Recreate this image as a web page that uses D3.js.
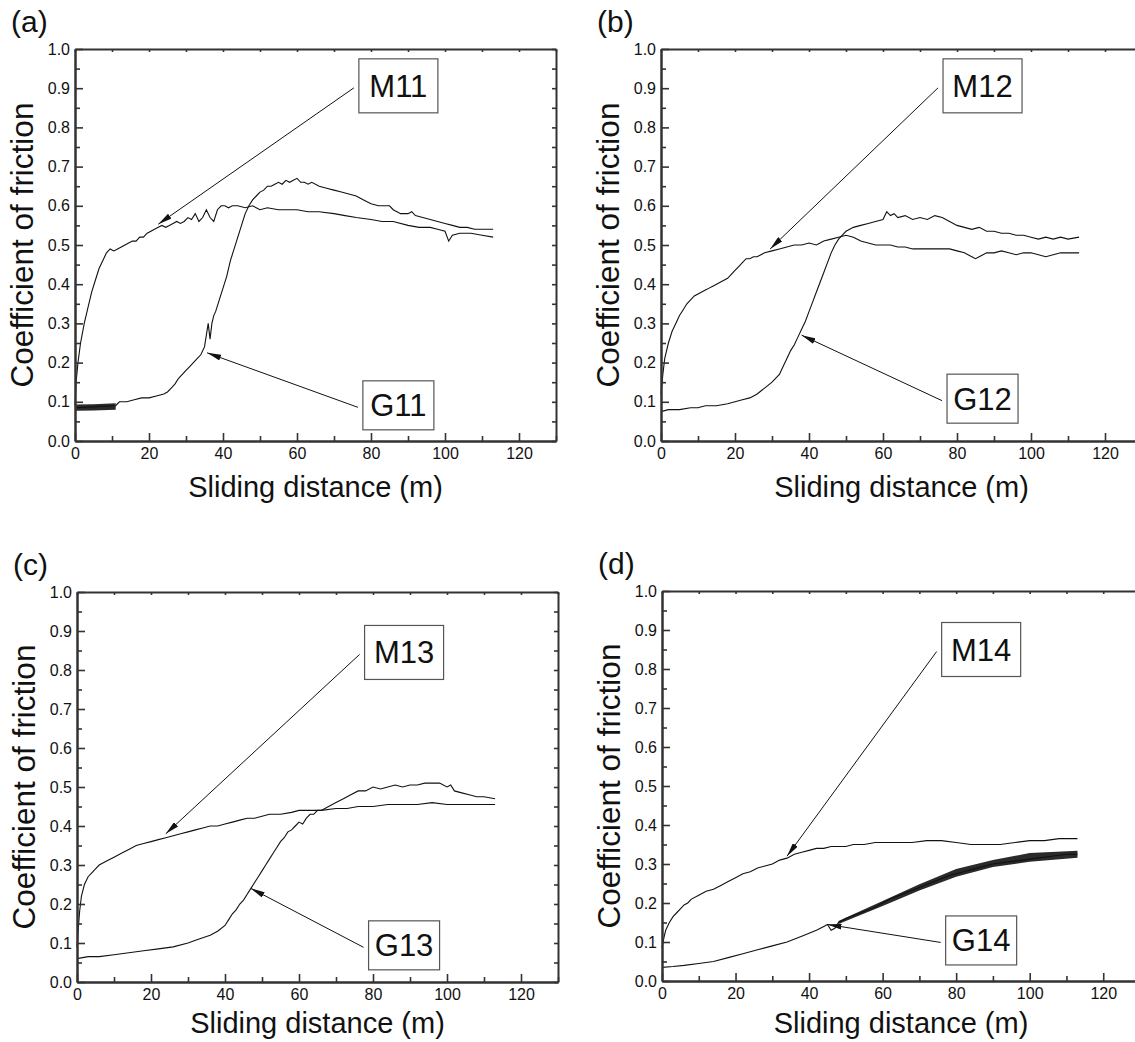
<!DOCTYPE html>
<html><head><meta charset="utf-8">
<script src="https://cdn.jsdelivr.net/npm/d3@7"></script>
<style>
body{margin:0;background:#fff}
svg{display:block}
text{font-family:"Liberation Sans",Arial,Helvetica,sans-serif;fill:#111}
</style>
</head><body>
<svg id="chart" width="1135" height="1042"></svg>
<script>
// ---------------- data ----------------
const panelLetters = ["(a)", "(b)", "(c)", "(d)"];
const seriesNames = [["M11", "G11"], ["M12", "G12"], ["M13", "G13"], ["M14", "G14"]];
const xTicks = [0, 20, 40, 60, 80, 100, 120];
const yTicks = [0.0, 0.1, 0.2, 0.3, 0.4, 0.5, 0.6, 0.7, 0.8, 0.9, 1.0];
const xTitle = "Sliding distance (m)";
const yTitle = "Coefficient of friction";

const m11 = [[0,0.09],[0.3,0.15],[0.8,0.2],[1.5,0.25],[2.5,0.3],[3.5,0.34],[4.5,0.38],[5.5,0.41],[6.5,0.44],[7.5,0.46],[8.5,0.48],[9.5,0.49],[10.5,0.485],[11.5,0.49],[12.5,0.495],[13.5,0.5],[14.5,0.505],[15.5,0.51],[16.5,0.51],[17.5,0.52],[18.5,0.52],[19.5,0.53],[20.5,0.535],[21.5,0.54],[22.5,0.545],[23.5,0.55],[24.5,0.545],[25.5,0.55],[26.5,0.555],[27.5,0.56],[28.5,0.555],[29.5,0.56],[30.5,0.57],[31.5,0.565],[32.5,0.58],[33.5,0.56],[34.5,0.57],[35.5,0.59],[36.5,0.57],[37.5,0.56],[38.5,0.59],[39.5,0.6],[40.5,0.6],[41.5,0.595],[42.5,0.6],[44,0.6],[46,0.595],[48,0.6],[50,0.59],[52,0.595],[55,0.59],[58,0.59],[60,0.59],[63,0.585],[66,0.585],[70,0.58],[73,0.575],[76,0.57],[80,0.565],[83,0.56],[86,0.56],[90,0.55],[93,0.545],[96,0.545],[98,0.54],[100,0.535],[101,0.51],[102,0.525],[104,0.53],[107,0.53],[110,0.525],[113,0.52]];
const g11 = [[0,0.085],[11,0.09],[12,0.1],[14,0.1],[16,0.105],[18,0.11],[20,0.11],[22,0.115],[24,0.12],[25,0.125],[26,0.135],[27,0.145],[28,0.16],[29,0.17],[30,0.18],[31,0.19],[32,0.2],[33,0.21],[34,0.22],[35,0.24],[35.5,0.27],[36,0.3],[36.5,0.26],[37,0.3],[37.5,0.32],[38,0.33],[39,0.36],[40,0.39],[41,0.42],[42,0.46],[43,0.49],[44,0.52],[45,0.55],[46,0.58],[47,0.6],[48,0.615],[49,0.625],[50,0.635],[51,0.64],[52,0.65],[53,0.65],[54,0.655],[55,0.66],[56,0.655],[57,0.665],[58,0.66],[59,0.665],[60,0.67],[61,0.66],[62,0.66],[63,0.655],[64,0.66],[66,0.65],[68,0.645],[70,0.64],[72,0.635],[74,0.63],[76,0.625],[78,0.615],[80,0.605],[82,0.6],[84,0.6],[85,0.6],[86,0.59],[88,0.58],[90,0.58],[91,0.585],[92,0.575],[94,0.57],[96,0.565],[98,0.56],[100,0.555],[102,0.55],[104,0.545],[106,0.545],[108,0.54],[110,0.54],[113,0.54]];
const g11Band = [[0.3,0.077,0.093],[5,0.078,0.094],[11,0.08,0.096]];

const m12 = [[0,0.12],[0.5,0.17],[1,0.21],[2,0.25],[3,0.28],[4,0.3],[5,0.32],[6,0.335],[7,0.35],[8,0.36],[9,0.37],[10,0.375],[11,0.38],[12,0.385],[13,0.39],[14,0.395],[15,0.4],[16,0.405],[17,0.41],[18,0.415],[19,0.425],[20,0.435],[21,0.445],[22,0.455],[23,0.465],[24,0.465],[25,0.47],[26,0.47],[27,0.475],[28,0.48],[30,0.485],[32,0.49],[34,0.495],[36,0.5],[38,0.5],[40,0.505],[42,0.5],[44,0.51],[46,0.515],[48,0.52],[50,0.525],[52,0.52],[54,0.51],[56,0.505],[58,0.5],[60,0.5],[62,0.5],[64,0.495],[66,0.495],[68,0.49],[70,0.49],[72,0.49],[74,0.49],[76,0.49],[78,0.49],[80,0.485],[82,0.48],[84,0.47],[85,0.465],[86,0.47],[88,0.48],[90,0.48],[92,0.485],[94,0.48],[96,0.475],[98,0.48],[100,0.48],[102,0.475],[104,0.47],[106,0.475],[108,0.48],[110,0.48],[113,0.48]];
const g12 = [[0,0.075],[2,0.08],[5,0.08],[8,0.085],[10,0.085],[12,0.09],[15,0.09],[18,0.095],[20,0.1],[22,0.105],[24,0.11],[26,0.12],[28,0.135],[30,0.15],[32,0.17],[33,0.19],[34,0.21],[35,0.23],[36,0.245],[37,0.265],[38,0.285],[39,0.305],[40,0.33],[41,0.355],[42,0.38],[43,0.405],[44,0.43],[45,0.455],[46,0.48],[47,0.5],[48,0.515],[49,0.525],[50,0.535],[52,0.545],[54,0.55],[56,0.555],[58,0.56],[60,0.565],[61,0.585],[62,0.575],[63,0.58],[64,0.57],[66,0.575],[68,0.565],[70,0.57],[72,0.565],[74,0.575],[76,0.57],[78,0.56],[80,0.55],[82,0.545],[84,0.54],[86,0.545],[88,0.535],[90,0.535],[92,0.53],[94,0.53],[96,0.525],[98,0.525],[100,0.52],[102,0.515],[104,0.52],[106,0.515],[108,0.52],[110,0.515],[113,0.52]];

const m13 = [[0,0.09],[0.3,0.13],[0.7,0.18],[1.2,0.22],[2,0.25],[3,0.27],[4,0.28],[5,0.29],[6,0.3],[8,0.31],[10,0.32],[12,0.33],[14,0.34],[16,0.35],[18,0.355],[20,0.36],[22,0.365],[24,0.37],[26,0.375],[28,0.38],[30,0.385],[32,0.39],[34,0.395],[36,0.4],[38,0.4],[40,0.405],[42,0.41],[44,0.415],[46,0.42],[48,0.42],[50,0.425],[52,0.43],[55,0.43],[58,0.435],[60,0.44],[63,0.44],[66,0.44],[70,0.445],[73,0.445],[76,0.45],[80,0.45],[84,0.455],[88,0.455],[92,0.455],[96,0.46],[100,0.455],[104,0.455],[108,0.455],[113,0.455]];
const g13 = [[0,0.06],[3,0.065],[6,0.065],[10,0.07],[14,0.075],[18,0.08],[22,0.085],[26,0.09],[30,0.1],[33,0.11],[36,0.12],[38,0.13],[40,0.145],[41,0.16],[42,0.175],[43,0.185],[44,0.2],[45,0.21],[46,0.225],[47,0.24],[48,0.255],[49,0.27],[50,0.285],[51,0.3],[52,0.315],[53,0.33],[54,0.345],[55,0.36],[56,0.37],[57,0.385],[58,0.39],[59,0.4],[60,0.41],[61,0.405],[62,0.42],[63,0.43],[64,0.43],[65,0.44],[66,0.44],[68,0.45],[70,0.46],[72,0.47],[74,0.48],[76,0.49],[78,0.49],[80,0.5],[82,0.495],[84,0.5],[86,0.505],[88,0.5],[90,0.505],[92,0.505],[94,0.51],[96,0.51],[98,0.51],[100,0.5],[101,0.505],[102,0.49],[104,0.485],[106,0.48],[108,0.475],[110,0.475],[113,0.47]];

const m14 = [[0,0.085],[0.5,0.11],[1,0.13],[2,0.15],[3,0.165],[4,0.175],[5,0.185],[6,0.195],[7,0.2],[8,0.21],[10,0.22],[12,0.23],[14,0.235],[16,0.245],[18,0.255],[20,0.265],[22,0.275],[24,0.28],[26,0.29],[28,0.295],[30,0.3],[32,0.31],[34,0.315],[36,0.325],[38,0.33],[40,0.335],[42,0.34],[44,0.34],[46,0.345],[48,0.345],[50,0.345],[52,0.35],[55,0.35],[58,0.355],[60,0.355],[64,0.355],[68,0.355],[72,0.36],[76,0.36],[80,0.355],[84,0.35],[88,0.35],[92,0.35],[96,0.355],[100,0.36],[104,0.36],[108,0.365],[113,0.365]];
const g14 = [[0,0.035],[3,0.037],[6,0.04],[10,0.045],[14,0.05],[18,0.06],[22,0.07],[26,0.08],[30,0.09],[34,0.1],[38,0.115],[42,0.13],[44,0.14],[45,0.145],[46,0.13],[47,0.135],[48,0.15],[50,0.16],[54,0.175],[58,0.19],[62,0.21],[66,0.225],[70,0.24],[74,0.255],[78,0.27],[82,0.28],[86,0.29],[90,0.3],[94,0.305],[98,0.31],[102,0.315],[106,0.32],[110,0.325],[113,0.325]];
const g14Band = [[48,0.146,0.154],[60,0.192,0.205],[70,0.232,0.248],[80,0.267,0.287],[90,0.292,0.31],[100,0.306,0.328],[113,0.316,0.334]];

// annotation anchors in data units: [label centre x, label centre y, arrow tip x, arrow tip y]
const annoM = [[87.4,0.906,22.5,0.553],[86.9,0.906,29.5,0.49],[88.4,0.845,24,0.38],[86.8,0.85,34,0.32]];
const annoG = [[87.4,0.091,35.7,0.225],[86.9,0.108,38,0.27],[88.4,0.094,47,0.24],[86.8,0.104,45,0.145]];

const mSeries = [m11, m12, m13, m14];
const gSeries = [g11, g12, g13, g14];
const bands = [[g11Band], [], [], [g14Band]];

// ---------------- layout ----------------
const panels = [
  {x0:75,  x1:556,  y0:49,  y1:441, tOff:56},
  {x0:661, x1:1142, y0:49,  y1:441, tOff:56},
  {x0:77,  x1:558,  y0:592, y1:982, tOff:51},
  {x0:662, x1:1140, y0:591, y1:981, tOff:52}
];
const boxSize = {M: [79, 54], G: [71, 49]};

const svg = d3.select("#chart");
const defs = svg.append("defs");
defs.append("marker").attr("id","arr").attr("viewBox","0 0 14 6").attr("refX",14).attr("refY",3)
  .attr("markerWidth",14).attr("markerHeight",6).attr("markerUnits","userSpaceOnUse").attr("orient","auto")
  .append("path").attr("d","M0,0 L14,3 L0,6 Z").attr("fill","#111");

const axisColor = "#333";
const FONT = '"Liberation Sans",Arial,Helvetica,sans-serif';

panels.forEach((p, i) => {
  const x = d3.scaleLinear().domain([0,130]).range([p.x0, p.x1]);
  const y = d3.scaleLinear().domain([0,1]).range([p.y1, p.y0]);
  const g = svg.append("g");

  // panel letter
  g.append("text").attr("x", p.x0 - 64).attr("y", p.y0 - 17).attr("font-size", 30).text(panelLetters[i]);

  // lines
  const line = d3.line().x(d => x(d[0])).y(d => y(d[1]));
  const area = d3.area().x(d => x(d[0])).y0(d => y(d[1])).y1(d => y(d[2]));
  bands[i].forEach(b => g.append("path").attr("d", area(b)).attr("fill","#2a2a2a"));
  [mSeries[i], gSeries[i]].forEach(s => {
    g.append("path").attr("d", line(s)).attr("fill","none").attr("stroke","#111").attr("stroke-width",1.1);
  });

  // axes
  const minorX = d3.range(10, 131, 20);
  const minorY = d3.range(0.05, 1, 0.1);
  const ax = g.append("g");
  ax.append("g").attr("transform", `translate(0,${p.y1})`)
    .call(d3.axisBottom(x).tickValues(xTicks).tickSizeInner(-8).tickSizeOuter(0).tickPadding(7).tickFormat(d3.format("d")));
  ax.append("g").attr("transform", `translate(0,${p.y1})`)
    .call(d3.axisBottom(x).tickValues(minorX).tickSizeInner(-5).tickSizeOuter(0).tickFormat(""));
  ax.append("g").attr("transform", `translate(${p.x0},0)`)
    .call(d3.axisLeft(y).tickValues(yTicks).tickSizeInner(-8).tickSizeOuter(0).tickPadding(5).tickFormat(d3.format(".1f")));
  ax.append("g").attr("transform", `translate(${p.x0},0)`)
    .call(d3.axisLeft(y).tickValues(minorY).tickSizeInner(-5).tickSizeOuter(0).tickFormat(""));
  ax.append("g").attr("transform", `translate(0,${p.y0})`)
    .call(d3.axisTop(x).tickValues(d3.range(0,131,10)).tickSizeInner(-3).tickSizeOuter(0).tickFormat(""));
  ax.append("g").attr("transform", `translate(${p.x1},0)`)
    .call(d3.axisRight(y).tickValues(d3.range(0,1.001,0.05)).tickSizeInner(-4).tickSizeOuter(0).tickFormat(""));
  ax.selectAll(".domain").attr("stroke", axisColor).attr("stroke-width", 2);
  ax.selectAll(".tick line").attr("stroke", axisColor).attr("stroke-width", 1.6);
  ax.selectAll(".tick text").attr("font-size", 16).attr("fill", "#111").attr("font-family", FONT);

  // titles
  g.append("text").attr("x", (p.x0 + p.x1) / 2).attr("y", p.y1 + p.tOff).attr("text-anchor","middle")
    .attr("font-size", 29).text(xTitle);
  g.append("text").attr("transform", `translate(${p.x0 - 42},${(p.y0 + p.y1) / 2}) rotate(-90)`)
    .attr("text-anchor","middle").attr("font-size", 31.5).text(yTitle);

  // annotations
  [[annoM[i], seriesNames[i][0], "M"], [annoG[i], seriesNames[i][1], "G"]].forEach(([a, name, k]) => {
    const cx = x(a[0]), cy = y(a[1]);
    const [bw, bh] = boxSize[k];
    const ag = g.append("g");
    ag.append("rect").attr("x", cx - bw / 2).attr("y", cy - bh / 2).attr("width", bw).attr("height", bh)
      .attr("fill","#fff").attr("stroke","#555").attr("stroke-width",1.2);
    ag.append("text").attr("x", cx).attr("y", cy + 11).attr("text-anchor","middle")
      .attr("font-size", 31).text(name);
    ag.append("line").attr("x1", cx - bw / 2 - 5).attr("y1", cy + 2).attr("x2", x(a[2])).attr("y2", y(a[3]))
      .attr("stroke","#111").attr("stroke-width",1).attr("marker-end","url(#arr)");
  });
});
</script>
</body></html>
